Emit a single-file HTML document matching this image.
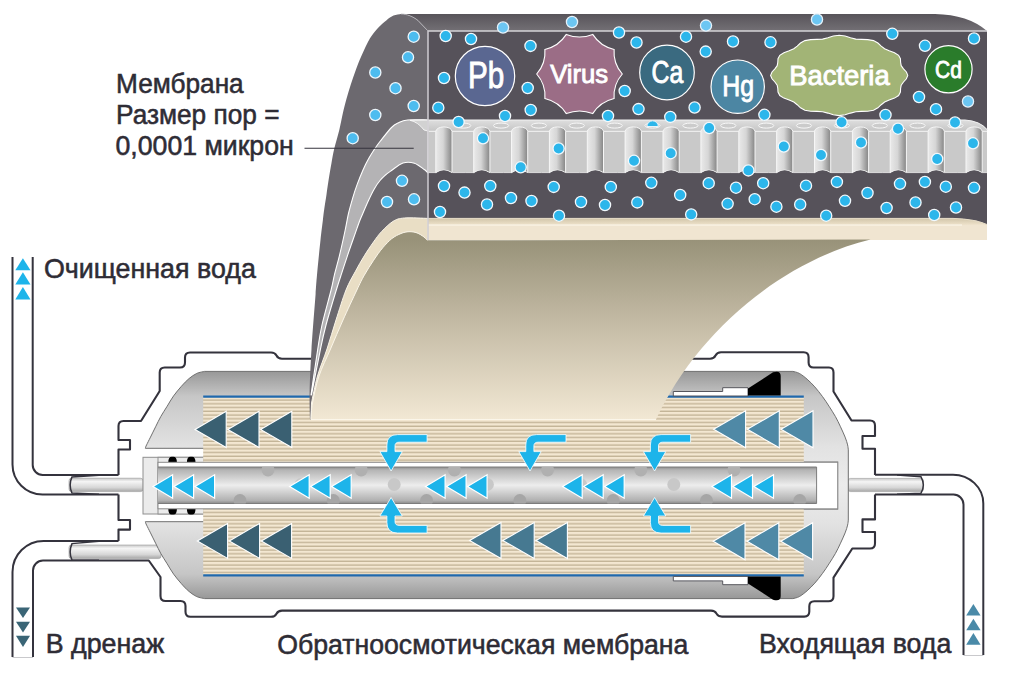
<!DOCTYPE html>
<html lang="ru"><head><meta charset="utf-8"><title>Обратноосмотическая мембрана</title>
<style>html,body{margin:0;padding:0;background:#fff}body{width:1024px;height:699px;overflow:hidden;font-family:"Liberation Sans",sans-serif}svg{display:block}</style>
</head><body>
<svg width="1024" height="699" viewBox="0 0 1024 699" font-family="'Liberation Sans', sans-serif">
<defs>
<linearGradient id="gTop" x1="0" y1="0" x2="0" y2="1"><stop offset="0" stop-color="#58545a"/><stop offset="1" stop-color="#737075"/></linearGradient>
<linearGradient id="gSheet" gradientUnits="userSpaceOnUse" x1="0" y1="240" x2="0" y2="420"><stop offset="0" stop-color="#989279"/><stop offset="0.45" stop-color="#c3baa4"/><stop offset="1" stop-color="#f2e8d4"/></linearGradient>
<linearGradient id="gCyl" x1="0" y1="0" x2="1" y2="0"><stop offset="0" stop-color="#e9e9e9"/><stop offset="0.45" stop-color="#d6d6d6"/><stop offset="0.8" stop-color="#a2a2a2"/><stop offset="1" stop-color="#858585"/></linearGradient>
<linearGradient id="gStrip" gradientUnits="userSpaceOnUse" x1="0" y1="120" x2="0" y2="131"><stop offset="0" stop-color="#dedede"/><stop offset="1" stop-color="#c6c6c6"/></linearGradient>
<linearGradient id="gBeigeTop" x1="0" y1="0" x2="0" y2="1"><stop offset="0" stop-color="#d2c6aa"/><stop offset="1" stop-color="#eee2cb"/></linearGradient>
<linearGradient id="gHouse" gradientUnits="userSpaceOnUse" x1="0" y1="371" x2="0" y2="599"><stop offset="0" stop-color="#979797"/><stop offset="0.11" stop-color="#c6c6c6"/><stop offset="0.33" stop-color="#e2e2e2"/><stop offset="0.5" stop-color="#ececec"/><stop offset="0.67" stop-color="#e2e2e2"/><stop offset="0.89" stop-color="#c6c6c6"/><stop offset="1" stop-color="#979797"/></linearGradient>
<linearGradient id="gTube" x1="0" y1="0" x2="0" y2="1"><stop offset="0" stop-color="#8e8e8e"/><stop offset="0.08" stop-color="#b4b4b4"/><stop offset="0.5" stop-color="#ededed"/><stop offset="0.92" stop-color="#b0b0b0"/><stop offset="1" stop-color="#8a8a8a"/></linearGradient>
<linearGradient id="gSmall" x1="0" y1="0" x2="0" y2="1"><stop offset="0" stop-color="#c8c8c8"/><stop offset="0.25" stop-color="#f5f5f5"/><stop offset="0.7" stop-color="#d6d6d6"/><stop offset="1" stop-color="#a6a6a6"/></linearGradient>
<pattern id="pStripe" patternUnits="userSpaceOnUse" x="0" y="397" width="8" height="3.75"><rect width="8" height="3.75" fill="#f3e7d1"/><rect y="2.35" width="8" height="1.4" fill="#c3b497"/></pattern>
<clipPath id="cTube"><rect x="158" y="467" width="658.6" height="36.5"/></clipPath>
<clipPath id="cFront"><rect x="428" y="31" width="559" height="200"/></clipPath>
</defs>
<path d="M118.5,475 V449.5 H130 V440 H118.5 V426 Q118.5,421 123.5,421 H141 L159.7,391 V372.5 Q159.7,367.5 164.7,367.5 H180 Q185,367.5 185,362.5 V357.5 Q185,352.5 190,352.5 H271 Q275,352.5 276.5,355.5 Q278,358.7 282,358.7 H710 Q714,358.7 715.5,355.5 Q717,352.3 721,352.3 H803.6 Q808.6,352.3 808.6,357.3 V362.5 Q808.6,367.5 813.6,367.5 H829 Q833.5,367.5 833.5,372.5 V391.5 L851.5,420.5 H870 Q875,420.5 875,425.5 V436 H862.5 V448.8 H875 V475 M875,494.5 V519.4 H862.5 V532 H875 V543.5 Q875,548.5 870,548.5 H852.3 L833.5,577.6 V596.3 Q833.5,601.3 828.5,601.3 H814.3 Q809.3,601.3 809.3,606.3 V611.6 Q809.3,616.6 804.3,616.6 H722 Q718,616.6 716.5,613.6 Q715,610.6 711,610.6 H282 Q278,610.6 276.5,613.7 Q275,616.8 271,616.8 H190.5 Q185.5,616.8 185.5,611.8 V606 Q185.5,601 180.5,601 H165.5 Q160.5,601 160.5,596 V577 L148.75,560.5 H99 M118.5,541 V529.6 H130 V520 H118.5 V494.5" fill="none" stroke="#34333d" stroke-width="2.1" stroke-linejoin="round"/>
<path d="M12.5,257 V464.5 A30,30 0 0 0 42.5,494.5 H118.5 M32.7,257 V465 A10,10 0 0 0 42.7,475 H118.5 M118.5,541 H43.5 A31,31 0 0 0 12.5,572 V657 M99,560.5 H43 A10,10 0 0 0 33,570.5 V657 M875,474.7 H953 A30.3,28.8 0 0 1 983.3,503.5 V655 M875,494.5 H953.5 A10,10 0 0 1 963.5,504.5 V655" fill="none" stroke="#34333d" stroke-width="2"/>
<path d="M12.5,657.5 H33 M963.5,655.5 H983.3" stroke="#c9c9cc" stroke-width="1" fill="none"/>
<rect x="69" y="478.2" width="74" height="13.4" rx="2.5" fill="url(#gSmall)" stroke="#9a9a9a" stroke-width="0.6"/>
<rect x="69" y="545" width="92" height="13.6" rx="2.5" fill="url(#gSmall)" stroke="#9a9a9a" stroke-width="0.6"/>
<rect x="848" y="478.4" width="75.5" height="13.2" rx="2.5" fill="url(#gSmall)" stroke="#9a9a9a" stroke-width="0.6"/>
<path d="M99,475.3 L72,476.9 Q68.3,485 72,493.1 L99,494.3 M99,541.3 L72,543.6 Q68.3,552 72,560 L99,560.3 M897,474.9 L921,476.8 Q925.7,485 921,493.2 L897,494.3" fill="none" stroke="#34333d" stroke-width="1.5"/>
<path d="M145.3,448.1 C145.5,447.6 145.7,446.7 146.6,444.9 C147.5,443.1 149.0,440.1 150.5,437.1 C152.0,434.1 153.9,430.2 155.6,426.8 C157.3,423.4 158.9,419.9 160.8,416.5 C162.7,413.1 165.1,409.6 167.2,406.2 C169.3,402.8 171.2,399.2 173.6,395.9 C176.0,392.6 178.8,389.2 181.4,386.3 C184.0,383.4 186.5,380.6 189.1,378.5 C191.7,376.4 194.2,374.6 196.8,373.4 C199.4,372.2 203.3,371.7 204.6,371.4 H792.9 C794.0,371.7 796.9,372.1 799.3,373.4 C801.7,374.7 804.5,376.9 807.1,379.2 C809.7,381.4 812.2,384.0 814.8,386.9 C817.4,389.8 820.1,393.4 822.5,396.6 C824.9,399.8 826.9,402.9 829.0,406.2 C831.1,409.5 833.5,413.1 835.4,416.5 C837.3,419.9 838.9,423.4 840.5,426.8 C842.1,430.2 843.9,434.1 845.1,437.1 C846.3,440.1 847.1,442.8 847.6,444.9 C848.1,447.0 848.2,449.1 848.3,450.0 V520 C848.2,520.9 848.1,523.0 847.6,525.1 C847.1,527.2 846.3,529.9 845.1,532.9 C843.9,535.9 842.1,539.8 840.5,543.2 C838.9,546.6 837.3,550.1 835.4,553.5 C833.5,556.9 831.1,560.5 829.0,563.8 C826.9,567.1 824.9,570.2 822.5,573.4 C820.1,576.6 817.4,580.2 814.8,583.1 C812.2,586.0 809.7,588.5 807.1,590.8 C804.5,593.0 801.7,595.3 799.3,596.6 C796.9,597.9 794.0,598.3 792.9,598.6 H204.6 C203.3,598.3 199.4,597.8 196.8,596.6 C194.2,595.4 191.7,593.6 189.1,591.5 C186.5,589.4 184.0,586.6 181.4,583.7 C178.8,580.8 176.0,577.4 173.6,574.1 C171.2,570.8 169.3,567.2 167.2,563.8 C165.1,560.4 162.7,556.9 160.8,553.5 C158.9,550.1 157.3,546.6 155.6,543.2 C153.9,539.8 152.0,535.9 150.5,532.9 C149.0,529.9 147.5,526.9 146.6,525.1 C145.7,523.3 145.5,522.4 145.3,521.9 Z" fill="url(#gHouse)" stroke="#6f6f6f" stroke-width="1"/>
<rect x="143.2" y="448.3" width="60.8" height="73.4" fill="#fff"/>
<path d="M145.3,448.3 H204 M145.3,521.7 H204" stroke="#6f6f6f" stroke-width="1"/>
<rect x="143" y="457.3" width="60.5" height="56.7" fill="#ebebeb" stroke="#8f8f8f" stroke-width="1"/>
<rect x="158" y="457.3" width="46" height="56.7" fill="#ececec" stroke="#8f8f8f" stroke-width="1"/>
<path d="M168.3,462.3 Q168.3,456 172.6,456.8 Q176.9,456 176.9,462.3 Z" fill="#000"/>
<path d="M168.3,509 Q168.3,515.3 172.6,514.5 Q176.9,515.3 176.9,509 Z" fill="#000"/>
<path d="M186.9,462.3 Q186.9,456 191.2,456.8 Q195.5,456 195.5,462.3 Z" fill="#000"/>
<path d="M186.9,509 Q186.9,515.3 191.2,514.5 Q195.5,515.3 195.5,509 Z" fill="#000"/>
<rect x="800" y="461.9" width="37.7" height="47.4" fill="#fff" stroke="#8a8a8a" stroke-width="1"/>
<rect x="203.2" y="397" width="600.6" height="65.5" fill="url(#pStripe)"/>
<rect x="203.2" y="508" width="600.6" height="67" fill="url(#pStripe)"/>
<path d="M203.2,396.6 H803.8 M203.2,575.4 H803.8" stroke="#2069ad" stroke-width="2.3"/>
<path d="M673.3,396 V391.5 H722.7 V387.7 H748 V396 Z" fill="#fff" stroke="#55555c" stroke-width="1"/>
<path d="M748,395.6 V388.5 L773,372.3 Q780.7,370 780.7,376 V395.6 Z" fill="#000"/>
<path d="M673.3,576.4 V580.9 H722.7 V584.7 H748 V576.4 Z" fill="#fff" stroke="#55555c" stroke-width="1"/>
<path d="M748,576.6 V583.5 L773,599.7 Q780.7,602 780.7,596 V576.6 Z" fill="#000"/>
<rect x="158" y="462.3" width="679.7" height="46.5" fill="#fff" stroke="#8a8a8a" stroke-width="1"/>
<rect x="158" y="467" width="658.6" height="36.5" fill="url(#gTube)"/>
<path d="M158,467 H816.6 V503.5 H158" fill="none" stroke="#7c7c7c" stroke-width="1"/>
<g clip-path="url(#cTube)"><circle cx="268.0" cy="470" r="6.5" fill="#b0b0b0"/><circle cx="240.0" cy="500.5" r="6.5" fill="#a6a6a6"/><circle cx="301.0" cy="484.5" r="6.5" fill="#c8c8c8"/><circle cx="361.2" cy="470" r="6.5" fill="#b0b0b0"/><circle cx="333.3" cy="500.5" r="6.5" fill="#a6a6a6"/><circle cx="394.2" cy="484.5" r="6.5" fill="#c8c8c8"/><circle cx="454.4" cy="470" r="6.5" fill="#b0b0b0"/><circle cx="426.6" cy="500.5" r="6.5" fill="#a6a6a6"/><circle cx="487.4" cy="484.5" r="6.5" fill="#c8c8c8"/><circle cx="547.6" cy="470" r="6.5" fill="#b0b0b0"/><circle cx="519.9" cy="500.5" r="6.5" fill="#a6a6a6"/><circle cx="580.6" cy="484.5" r="6.5" fill="#c8c8c8"/><circle cx="640.8" cy="470" r="6.5" fill="#b0b0b0"/><circle cx="613.2" cy="500.5" r="6.5" fill="#a6a6a6"/><circle cx="673.8" cy="484.5" r="6.5" fill="#c8c8c8"/><circle cx="734.0" cy="470" r="6.5" fill="#b0b0b0"/><circle cx="706.5" cy="500.5" r="6.5" fill="#a6a6a6"/><circle cx="767.0" cy="484.5" r="6.5" fill="#c8c8c8"/><circle cx="827.2" cy="470" r="6.5" fill="#b0b0b0"/><circle cx="799.8" cy="500.5" r="6.5" fill="#a6a6a6"/><circle cx="860.2" cy="484.5" r="6.5" fill="#c8c8c8"/></g>
<path d="M153.0,486.5 L172.6,474.7 V498.3 Z" fill="#1db4ea" stroke="#fff" stroke-width="1.2" stroke-linejoin="miter"/>
<path d="M174.0,486.5 L193.6,474.7 V498.3 Z" fill="#1db4ea" stroke="#fff" stroke-width="1.2" stroke-linejoin="miter"/>
<path d="M195.0,486.5 L214.6,474.7 V498.3 Z" fill="#1db4ea" stroke="#fff" stroke-width="1.2" stroke-linejoin="miter"/>
<path d="M289.6,486.5 L309.2,474.7 V498.3 Z" fill="#1db4ea" stroke="#fff" stroke-width="1.2" stroke-linejoin="miter"/>
<path d="M310.6,486.5 L330.2,474.7 V498.3 Z" fill="#1db4ea" stroke="#fff" stroke-width="1.2" stroke-linejoin="miter"/>
<path d="M331.6,486.5 L351.2,474.7 V498.3 Z" fill="#1db4ea" stroke="#fff" stroke-width="1.2" stroke-linejoin="miter"/>
<path d="M425.5,486.5 L445.1,474.7 V498.3 Z" fill="#1db4ea" stroke="#fff" stroke-width="1.2" stroke-linejoin="miter"/>
<path d="M446.5,486.5 L466.1,474.7 V498.3 Z" fill="#1db4ea" stroke="#fff" stroke-width="1.2" stroke-linejoin="miter"/>
<path d="M467.5,486.5 L487.1,474.7 V498.3 Z" fill="#1db4ea" stroke="#fff" stroke-width="1.2" stroke-linejoin="miter"/>
<path d="M562.6,486.5 L582.2,474.7 V498.3 Z" fill="#1db4ea" stroke="#fff" stroke-width="1.2" stroke-linejoin="miter"/>
<path d="M583.6,486.5 L603.2,474.7 V498.3 Z" fill="#1db4ea" stroke="#fff" stroke-width="1.2" stroke-linejoin="miter"/>
<path d="M604.6,486.5 L624.2,474.7 V498.3 Z" fill="#1db4ea" stroke="#fff" stroke-width="1.2" stroke-linejoin="miter"/>
<path d="M711.9,486.5 L731.5,474.7 V498.3 Z" fill="#1db4ea" stroke="#fff" stroke-width="1.2" stroke-linejoin="miter"/>
<path d="M732.9,486.5 L752.5,474.7 V498.3 Z" fill="#1db4ea" stroke="#fff" stroke-width="1.2" stroke-linejoin="miter"/>
<path d="M753.9,486.5 L773.5,474.7 V498.3 Z" fill="#1db4ea" stroke="#fff" stroke-width="1.2" stroke-linejoin="miter"/>
<path d="M195.0,429.4 L226.2,411.3 V447.5 Z" fill="#3a6072" stroke="#fff" stroke-width="1.1" stroke-linejoin="miter"/>
<path d="M227.8,429.4 L259.0,411.3 V447.5 Z" fill="#3a6072" stroke="#fff" stroke-width="1.1" stroke-linejoin="miter"/>
<path d="M260.6,429.4 L291.8,411.3 V447.5 Z" fill="#3a6072" stroke="#fff" stroke-width="1.1" stroke-linejoin="miter"/>
<path d="M197.3,540.9 L227.6,523.4 V558.4 Z" fill="#3a6072" stroke="#fff" stroke-width="1.1" stroke-linejoin="miter"/>
<path d="M229.3,540.9 L259.6,523.4 V558.4 Z" fill="#3a6072" stroke="#fff" stroke-width="1.1" stroke-linejoin="miter"/>
<path d="M261.3,540.9 L291.6,523.4 V558.4 Z" fill="#3a6072" stroke="#fff" stroke-width="1.1" stroke-linejoin="miter"/>
<path d="M469.6,540.5 L501.0,522.5 V558.5 Z" fill="#467991" stroke="#fff" stroke-width="1.1" stroke-linejoin="miter"/>
<path d="M502.8,540.5 L534.2,522.5 V558.5 Z" fill="#467991" stroke="#fff" stroke-width="1.1" stroke-linejoin="miter"/>
<path d="M536.0,540.5 L567.4,522.5 V558.5 Z" fill="#467991" stroke="#fff" stroke-width="1.1" stroke-linejoin="miter"/>
<path d="M713.6,429.3 L745.6,410.8 V447.8 Z" fill="#4f89a6" stroke="#fff" stroke-width="1.1" stroke-linejoin="miter"/>
<path d="M747.3,429.3 L779.3,410.8 V447.8 Z" fill="#4f89a6" stroke="#fff" stroke-width="1.1" stroke-linejoin="miter"/>
<path d="M781.0,429.3 L813.0,410.8 V447.8 Z" fill="#4f89a6" stroke="#fff" stroke-width="1.1" stroke-linejoin="miter"/>
<path d="M713.2,541.3 L745.0,522.8 V559.8 Z" fill="#4f89a6" stroke="#fff" stroke-width="1.1" stroke-linejoin="miter"/>
<path d="M747.0,541.3 L778.8,522.8 V559.8 Z" fill="#4f89a6" stroke="#fff" stroke-width="1.1" stroke-linejoin="miter"/>
<path d="M780.8,541.3 L812.6,522.8 V559.8 Z" fill="#4f89a6" stroke="#fff" stroke-width="1.1" stroke-linejoin="miter"/>
<path d="M427.1,434.6 H397.6 Q386.9,434.6 386.9,445 V451.6 H379.9 L391.1,471 L402.3,451.6 H395.0 V446 Q395.0,442.2 399.1,442.2 H427.1 Z" fill="#1db4ea" stroke="#fff" stroke-width="0.8"/>
<path d="M566.0,434.6 H536.5 Q525.8,434.6 525.8,445 V451.6 H518.8 L530.0,471 L541.2,451.6 H533.9 V446 Q533.9,442.2 538.0,442.2 H566.0 Z" fill="#1db4ea" stroke="#fff" stroke-width="0.8"/>
<path d="M690.6,434.6 H661.1 Q650.4,434.6 650.4,445 V451.6 H643.4 L654.6,471 L665.8,451.6 H658.5 V446 Q658.5,442.2 662.6,442.2 H690.6 Z" fill="#1db4ea" stroke="#fff" stroke-width="0.8"/>
<path d="M427.1,533 H397.6 Q386.9,533 386.9,522.6 V516 H379.9 L391.1,497.5 L402.3,516 H395.0 V521.6 Q395.0,525.4 399.1,525.4 H427.1 Z" fill="#1db4ea" stroke="#fff" stroke-width="0.8"/>
<path d="M690.6,533 H661.1 Q650.4,533 650.4,522.6 V516 H643.4 L654.6,497.5 L665.8,516 H658.5 V521.6 Q658.5,525.4 662.6,525.4 H690.6 Z" fill="#1db4ea" stroke="#fff" stroke-width="0.8"/>
<path d="M22.9,258.2 L30.5,270.2 H15.3 Z" fill="#1db4ea"/>
<path d="M22.9,272.2 L30.5,284.5 H15.3 Z" fill="#1db4ea"/>
<path d="M22.9,286.9 L30.5,299.5 H15.3 Z" fill="#1db4ea"/>
<path d="M23.0,618.0 L30.0,607.5 H16.0 Z" fill="#3a6576"/>
<path d="M23.0,632.5 L30.0,621.8 H16.0 Z" fill="#3a6576"/>
<path d="M23.0,647.0 L30.0,635.8 H16.0 Z" fill="#3a6576"/>
<path d="M973.4,604.0 L980.6,615.6 H966.2 Z" fill="#4a8aa8"/>
<path d="M973.4,618.7 L980.6,630.3 H966.2 Z" fill="#4a8aa8"/>
<path d="M973.4,633.0 L980.6,644.8 H966.2 Z" fill="#4a8aa8"/>
<path d="M401.0,13.9 C399.8,14.2 395.9,14.5 393.5,15.6 C391.1,16.7 388.9,18.4 386.3,20.4 C383.8,22.4 380.9,24.7 378.2,27.7 C375.5,30.7 372.8,33.6 370.0,38.3 C367.2,43.0 363.9,50.5 361.5,55.8 C359.1,61.1 357.6,65.2 355.8,70.0 C354.0,74.8 352.4,79.6 350.8,84.4 C349.2,89.2 347.8,93.9 346.5,98.7 C345.2,103.5 344.1,107.8 342.9,113.0 C341.7,118.2 340.7,124.1 339.3,130.0 C337.9,135.9 335.6,143.1 334.3,148.6 C333.0,154.1 332.4,157.8 331.5,163.0 C330.6,168.2 329.4,174.8 328.6,180.0 C327.8,185.2 327.2,189.6 326.5,194.4 C325.8,199.2 324.9,204.4 324.3,208.7 C323.7,213.0 323.5,214.8 322.9,220.0 C322.3,225.2 321.5,230.8 320.5,240.0 C319.5,249.2 317.8,266.0 317.0,275.0 C316.2,284.0 316.5,281.7 315.6,294.0 C314.7,306.3 312.5,332.7 311.5,349.0 C310.5,365.3 309.9,380.2 309.6,392.0 C309.4,403.8 309.9,414.9 310.0,419.5 L311,419.5 L428,419 L428,31 L418,20.5 C413,16.5 407,14 401,14 Z" fill="#6c696f"/>
<path d="M401,14 H935 Q968,14.5 987,31 H428 L418,20.5 C413,16.5 407,14 401,14 Z" fill="url(#gTop)"/>
<path d="M428,31 H987 V240 H428 Z" fill="#56525a"/>
<path d="M428.0,120.0 C424.6,120.0 412.5,119.5 407.5,120.0 C402.5,120.5 400.7,121.8 398.0,123.0 C395.3,124.2 394.5,124.4 391.5,127.5 C388.5,130.6 382.9,137.9 380.0,141.5 C377.1,145.1 376.3,146.5 374.4,149.3 C372.5,152.2 370.6,155.2 368.7,158.6 C366.8,162.0 364.9,165.7 363.0,170.0 C361.1,174.3 358.9,179.8 357.2,184.4 C355.5,189.0 354.3,192.5 352.9,197.3 C351.5,202.1 349.9,207.6 348.6,213.0 C347.3,218.4 346.7,222.9 345.2,230.0 C343.7,237.1 341.2,248.5 339.4,255.8 C337.6,263.2 336.0,268.4 334.6,274.1 C333.2,279.8 333.2,281.5 331.1,290.0 C329.0,298.5 324.2,315.2 322.0,325.0 C319.8,334.8 319.6,337.1 317.8,348.8 C316.0,360.5 312.1,387.3 311.0,395.0 L311.5,395.0 C313.0,387.3 318.1,360.5 320.5,348.8 C322.9,337.1 323.4,334.8 326.0,325.0 C328.6,315.2 333.7,298.5 336.3,290.0 C338.9,281.5 339.5,279.8 341.4,274.1 C343.2,268.4 345.1,262.7 347.4,255.8 C349.7,248.9 353.3,238.9 355.4,232.9 C357.5,226.9 358.7,223.3 360.0,220.0 C361.3,216.7 361.6,216.3 363.0,213.0 C364.4,209.7 366.8,204.1 368.7,200.0 C370.6,195.9 372.5,191.9 374.4,188.7 C376.3,185.4 378.1,182.8 380.0,180.5 C381.9,178.2 383.6,176.7 385.5,175.0 C387.4,173.3 388.6,172.5 391.5,170.5 C394.4,168.5 399.2,164.2 403.0,163.0 C406.8,161.8 410.8,162.1 414.4,163.2 C418.0,164.3 422.4,168.2 424.7,169.8 C427.0,171.4 427.4,172.5 428.0,173.0 Z" fill="#b4b3b5" stroke="#fff" stroke-width="1.1" stroke-linejoin="round"/>
<path d="M428.0,218.4 C424.1,218.3 410.2,217.5 404.4,218.0 C398.6,218.5 396.8,219.1 393.0,221.4 C389.2,223.7 384.8,228.3 381.5,231.7 C378.2,235.1 376.4,238.0 373.5,242.0 C370.6,246.0 367.4,250.8 364.3,255.8 C361.2,260.8 358.2,266.1 355.2,271.8 C352.1,277.5 349.2,282.0 346.0,290.0 C342.8,298.0 339.2,310.2 336.0,320.0 C332.8,329.8 330.1,339.7 327.0,349.0 C323.9,358.3 320.1,367.0 317.5,376.0 C314.9,385.0 312.5,398.5 311.5,403.0 L311,419.5 L428,419.5 Z" fill="#e9dec5" stroke="#fbf6ea" stroke-width="1"/>
<path d="M428,218.4 H953 Q975,219 987,224.5 V240 H428 Z" fill="#f0e5d1"/>
<path d="M428,218.4 H953 Q975,219 987,224.5 L960,225 H428 Z" fill="url(#gBeigeTop)"/>
<path d="M428,225 H962" stroke="#fffaf0" stroke-width="0.9"/>
<path d="M428,218.4 H953 Q975,219 987,224.5" stroke="#e6dcc8" stroke-width="1" fill="none"/>
<path d="M427.3,240.3 C426.7,239.7 425.6,238.1 423.9,236.9 C422.2,235.7 419.5,233.8 417.0,232.9 C414.5,232.0 411.7,231.6 409.0,231.7 C406.3,231.8 403.9,232.3 401.0,233.5 C398.1,234.7 394.9,236.2 391.8,238.6 C388.8,241.0 385.8,244.2 382.7,247.8 C379.6,251.4 376.6,255.8 373.5,260.4 C370.4,265.0 367.1,270.3 364.3,275.2 C361.5,280.1 360.4,282.5 356.9,290.0 C353.3,297.5 347.4,310.2 343.0,320.0 C338.6,329.8 334.5,339.7 330.5,349.0 C326.5,358.3 322.0,367.0 319.0,376.0 C316.0,385.0 313.8,395.8 312.5,403.0 C311.2,410.2 311.2,416.8 311.0,419.5 H656 C695,335.2 779,261.8 870.5,239.5 Z" fill="url(#gSheet)"/>
<path d="M427.3,240.3 C426.7,239.7 425.6,238.1 423.9,236.9 C422.2,235.7 419.5,233.8 417.0,232.9 C414.5,232.0 411.7,231.6 409.0,231.7 C406.3,231.8 403.9,232.3 401.0,233.5 C398.1,234.7 394.9,236.2 391.8,238.6 C388.8,241.0 385.8,244.2 382.7,247.8 C379.6,251.4 376.6,255.8 373.5,260.4 C370.4,265.0 367.1,270.3 364.3,275.2 C361.5,280.1 360.4,282.5 356.9,290.0 C353.3,297.5 347.4,310.2 343.0,320.0 C338.6,329.8 334.5,339.7 330.5,349.0 C326.5,358.3 322.0,367.0 319.0,376.0 C316.0,385.0 313.8,395.8 312.5,403.0 C311.2,410.2 311.2,416.8 311.0,419.5 H656" fill="none" stroke="#fbf6ea" stroke-width="1"/>
<path d="M428,120 H965 Q980,121 987,129.5 V172.5 H428 Z" fill="#c9c9c9"/>
<path d="M428,120 H965 Q980,121 987,129.5 L987,131 H436 L428,131 Z" fill="url(#gStrip)"/>
<path d="M428,131.3 H987" stroke="#f6f6f6" stroke-width="1"/>
<path d="M410,120.3 L428,120 V131 L424,130 Q418,122 410,120.3 Z" fill="#d2d2d2" stroke="#fff" stroke-width="0.8"/>
<g clip-path="url(#cFront)"><path d="M435.8,172.6 V131.5 A8.1,4.6 0 0 1 452.0,131.5 V172.6 Q443.9,167.6 435.8,172.6 Z" fill="url(#gCyl)" stroke="#f6f6f6" stroke-width="1"/><path d="M435.8,173.2 Q443.9,167.2 452.0,173.2 Z" fill="#56525a"/><ellipse cx="463.2" cy="125.6" rx="7.6" ry="2.5" fill="#cbcbcb" stroke="#f8f8f8" stroke-width="1"/><path d="M473.7,172.6 V131.5 A8.1,4.6 0 0 1 489.9,131.5 V172.6 Q481.8,167.6 473.7,172.6 Z" fill="url(#gCyl)" stroke="#f6f6f6" stroke-width="1"/><path d="M473.7,173.2 Q481.8,167.2 489.9,173.2 Z" fill="#56525a"/><ellipse cx="501.1" cy="125.6" rx="7.6" ry="2.5" fill="#cbcbcb" stroke="#f8f8f8" stroke-width="1"/><path d="M511.5,172.6 V131.5 A8.1,4.6 0 0 1 527.7,131.5 V172.6 Q519.6,167.6 511.5,172.6 Z" fill="url(#gCyl)" stroke="#f6f6f6" stroke-width="1"/><path d="M511.5,173.2 Q519.6,167.2 527.7,173.2 Z" fill="#56525a"/><ellipse cx="538.9" cy="125.6" rx="7.6" ry="2.5" fill="#cbcbcb" stroke="#f8f8f8" stroke-width="1"/><path d="M549.4,172.6 V131.5 A8.1,4.6 0 0 1 565.6,131.5 V172.6 Q557.5,167.6 549.4,172.6 Z" fill="url(#gCyl)" stroke="#f6f6f6" stroke-width="1"/><path d="M549.4,173.2 Q557.5,167.2 565.6,173.2 Z" fill="#56525a"/><ellipse cx="576.8" cy="125.6" rx="7.6" ry="2.5" fill="#cbcbcb" stroke="#f8f8f8" stroke-width="1"/><path d="M587.3,172.6 V131.5 A8.1,4.6 0 0 1 603.5,131.5 V172.6 Q595.4,167.6 587.3,172.6 Z" fill="url(#gCyl)" stroke="#f6f6f6" stroke-width="1"/><path d="M587.3,173.2 Q595.4,167.2 603.5,173.2 Z" fill="#56525a"/><ellipse cx="614.7" cy="125.6" rx="7.6" ry="2.5" fill="#cbcbcb" stroke="#f8f8f8" stroke-width="1"/><path d="M625.1,172.6 V131.5 A8.1,4.6 0 0 1 641.4,131.5 V172.6 Q633.2,167.6 625.1,172.6 Z" fill="url(#gCyl)" stroke="#f6f6f6" stroke-width="1"/><path d="M625.1,173.2 Q633.2,167.2 641.4,173.2 Z" fill="#56525a"/><ellipse cx="652.5" cy="125.6" rx="7.6" ry="2.5" fill="#cbcbcb" stroke="#f8f8f8" stroke-width="1"/><path d="M663.0,172.6 V131.5 A8.1,4.6 0 0 1 679.2,131.5 V172.6 Q671.1,167.6 663.0,172.6 Z" fill="url(#gCyl)" stroke="#f6f6f6" stroke-width="1"/><path d="M663.0,173.2 Q671.1,167.2 679.2,173.2 Z" fill="#56525a"/><ellipse cx="690.4" cy="125.6" rx="7.6" ry="2.5" fill="#cbcbcb" stroke="#f8f8f8" stroke-width="1"/><path d="M700.9,172.6 V131.5 A8.1,4.6 0 0 1 717.1,131.5 V172.6 Q709.0,167.6 700.9,172.6 Z" fill="url(#gCyl)" stroke="#f6f6f6" stroke-width="1"/><path d="M700.9,173.2 Q709.0,167.2 717.1,173.2 Z" fill="#56525a"/><ellipse cx="728.3" cy="125.6" rx="7.6" ry="2.5" fill="#cbcbcb" stroke="#f8f8f8" stroke-width="1"/><path d="M738.8,172.6 V131.5 A8.1,4.6 0 0 1 755.0,131.5 V172.6 Q746.9,167.6 738.8,172.6 Z" fill="url(#gCyl)" stroke="#f6f6f6" stroke-width="1"/><path d="M738.8,173.2 Q746.9,167.2 755.0,173.2 Z" fill="#56525a"/><ellipse cx="766.2" cy="125.6" rx="7.6" ry="2.5" fill="#cbcbcb" stroke="#f8f8f8" stroke-width="1"/><path d="M776.6,172.6 V131.5 A8.1,4.6 0 0 1 792.8,131.5 V172.6 Q784.7,167.6 776.6,172.6 Z" fill="url(#gCyl)" stroke="#f6f6f6" stroke-width="1"/><path d="M776.6,173.2 Q784.7,167.2 792.8,173.2 Z" fill="#56525a"/><ellipse cx="804.0" cy="125.6" rx="7.6" ry="2.5" fill="#cbcbcb" stroke="#f8f8f8" stroke-width="1"/><path d="M814.5,172.6 V131.5 A8.1,4.6 0 0 1 830.7,131.5 V172.6 Q822.6,167.6 814.5,172.6 Z" fill="url(#gCyl)" stroke="#f6f6f6" stroke-width="1"/><path d="M814.5,173.2 Q822.6,167.2 830.7,173.2 Z" fill="#56525a"/><ellipse cx="841.9" cy="125.6" rx="7.6" ry="2.5" fill="#cbcbcb" stroke="#f8f8f8" stroke-width="1"/><path d="M852.4,172.6 V131.5 A8.1,4.6 0 0 1 868.6,131.5 V172.6 Q860.5,167.6 852.4,172.6 Z" fill="url(#gCyl)" stroke="#f6f6f6" stroke-width="1"/><path d="M852.4,173.2 Q860.5,167.2 868.6,173.2 Z" fill="#56525a"/><ellipse cx="879.8" cy="125.6" rx="7.6" ry="2.5" fill="#cbcbcb" stroke="#f8f8f8" stroke-width="1"/><path d="M890.2,172.6 V131.5 A8.1,4.6 0 0 1 906.4,131.5 V172.6 Q898.3,167.6 890.2,172.6 Z" fill="url(#gCyl)" stroke="#f6f6f6" stroke-width="1"/><path d="M890.2,173.2 Q898.3,167.2 906.4,173.2 Z" fill="#56525a"/><ellipse cx="917.6" cy="125.6" rx="7.6" ry="2.5" fill="#cbcbcb" stroke="#f8f8f8" stroke-width="1"/><path d="M928.1,172.6 V131.5 A8.1,4.6 0 0 1 944.3,131.5 V172.6 Q936.2,167.6 928.1,172.6 Z" fill="url(#gCyl)" stroke="#f6f6f6" stroke-width="1"/><path d="M928.1,173.2 Q936.2,167.2 944.3,173.2 Z" fill="#56525a"/><ellipse cx="955.5" cy="125.6" rx="7.6" ry="2.5" fill="#cbcbcb" stroke="#f8f8f8" stroke-width="1"/><path d="M966.0,172.6 V131.5 A8.1,4.6 0 0 1 982.2,131.5 V172.6 Q974.1,167.6 966.0,172.6 Z" fill="url(#gCyl)" stroke="#f6f6f6" stroke-width="1"/><path d="M966.0,173.2 Q974.1,167.2 982.2,173.2 Z" fill="#56525a"/></g>
<path d="M428,172.6 H987" stroke="#f0f0f0" stroke-width="0.8" fill="none" stroke-dasharray="8.7 15.8 13.35 0" stroke-dashoffset="0"/>
<path d="M428,120 H965 Q980,121 987,129.5" stroke="#f2f2f2" stroke-width="1" fill="none"/>
<path d="M428,31 H987" stroke="#d6d4d9" stroke-width="1.6"/>
<path d="M428,31 V240" stroke="#cfcdd2" stroke-width="1.5"/>
<path d="M401,14 C407,14 413,16.5 418,20.5 L428,31" stroke="#bdbbc0" stroke-width="0.8" fill="none"/>
<circle cx="485" cy="76" r="29.7" fill="#5a6791" stroke="#fff" stroke-width="1.2"/>
<path d="M622.3,74.0 Q613.0,84.6 614.1,98.5 Q600.2,101.8 592.7,113.6 Q579.5,108.4 566.3,113.6 Q558.8,101.8 544.9,98.5 Q546.0,84.6 536.7,74.0 Q546.0,63.4 544.9,49.5 Q558.8,46.2 566.3,34.4 Q579.5,39.6 592.7,34.4 Q600.2,46.2 614.1,49.5 Q613.0,63.4 622.3,74.0 Z" fill="#9b6d86" stroke="#fff" stroke-width="1.1" stroke-linejoin="miter"/>
<circle cx="667" cy="72.5" r="27.3" fill="#3a6a80" stroke="#fff" stroke-width="1.2"/>
<circle cx="737.7" cy="86.7" r="26.7" fill="#4c86a3" stroke="#fff" stroke-width="1.2"/>
<circle cx="948.5" cy="69.3" r="23.6" fill="#2a7c2b" stroke="#fff" stroke-width="1.2"/>
<path id="bact" d="M907.8,75.4 L906.4,78.8 L903.5,82.0 L901.2,85.1 L900.6,88.5 L900.4,92.1 L898.6,95.5 L894.5,98.1 L889.2,100.0 L884.6,102.0 L881.2,104.7 L877.9,107.8 L873.5,110.2 L867.7,111.2 L861.5,111.4 L855.8,111.7 L850.5,113.1 L845.1,114.8 L839.2,115.6 L833.3,114.8 L827.9,113.1 L822.6,111.7 L816.9,111.4 L810.7,111.2 L804.9,110.2 L800.5,107.8 L797.2,104.7 L793.8,102.0 L789.2,100.0 L783.9,98.1 L779.8,95.5 L778.0,92.1 L777.8,88.5 L777.2,85.1 L774.9,82.0 L772.0,78.8 L770.6,75.4 L772.0,72.0 L774.9,68.8 L777.2,65.7 L777.8,62.3 L778.0,58.7 L779.8,55.3 L783.9,52.7 L789.2,50.8 L793.8,48.8 L797.2,46.1 L800.5,43.0 L804.9,40.6 L810.7,39.6 L816.9,39.4 L822.6,39.1 L827.9,37.7 L833.3,36.0 L839.2,35.2 L845.1,36.0 L850.5,37.7 L855.8,39.1 L861.5,39.4 L867.7,39.6 L873.5,40.6 L877.9,43.0 L881.2,46.1 L884.6,48.8 L889.2,50.8 L894.5,52.7 L898.6,55.3 L900.4,58.7 L900.6,62.3 L901.2,65.7 L903.5,68.8 L906.4,72.0 Z" fill="#a2b476" stroke="#fff" stroke-width="1.1"/>
<circle cx="413.7" cy="36.7" r="5.6" fill="#4dbcef" stroke="#eef7fc" stroke-width="1.3"/>
<circle cx="408.0" cy="57.3" r="5.6" fill="#4dbcef" stroke="#eef7fc" stroke-width="1.3"/>
<circle cx="375.3" cy="72.5" r="5.6" fill="#4dbcef" stroke="#eef7fc" stroke-width="1.3"/>
<circle cx="395.5" cy="88.2" r="5.6" fill="#4dbcef" stroke="#eef7fc" stroke-width="1.3"/>
<circle cx="413.7" cy="106.0" r="5.6" fill="#4dbcef" stroke="#eef7fc" stroke-width="1.3"/>
<circle cx="375.3" cy="115.0" r="5.6" fill="#4dbcef" stroke="#eef7fc" stroke-width="1.3"/>
<circle cx="352.7" cy="138.2" r="5.6" fill="#4dbcef" stroke="#eef7fc" stroke-width="1.3"/>
<circle cx="402.0" cy="180.8" r="5.6" fill="#4dbcef" stroke="#eef7fc" stroke-width="1.3"/>
<circle cx="387.0" cy="202.0" r="5.6" fill="#4dbcef" stroke="#eef7fc" stroke-width="1.3"/>
<circle cx="414.0" cy="199.3" r="5.6" fill="#4dbcef" stroke="#eef7fc" stroke-width="1.3"/>
<circle cx="503.0" cy="27.5" r="5.6" fill="#6cc6f2" stroke="#e6f2fa" stroke-width="1.3"/>
<circle cx="572.0" cy="22.0" r="5.6" fill="#6cc6f2" stroke="#e6f2fa" stroke-width="1.3"/>
<circle cx="706.0" cy="25.6" r="5.6" fill="#6cc6f2" stroke="#e6f2fa" stroke-width="1.3"/>
<circle cx="817.0" cy="19.5" r="5.6" fill="#6cc6f2" stroke="#e6f2fa" stroke-width="1.3"/>
<circle cx="968.0" cy="101.5" r="5.6" fill="#6cc6f2" stroke="#e6f2fa" stroke-width="1.3"/>
<circle cx="445.7" cy="36.0" r="5.6" fill="#2cb6eb" stroke="#f2f9fd" stroke-width="1.3"/>
<circle cx="471.0" cy="39.0" r="5.6" fill="#2cb6eb" stroke="#f2f9fd" stroke-width="1.3"/>
<circle cx="530.5" cy="45.9" r="5.6" fill="#2cb6eb" stroke="#f2f9fd" stroke-width="1.3"/>
<circle cx="444.0" cy="78.0" r="5.6" fill="#2cb6eb" stroke="#f2f9fd" stroke-width="1.3"/>
<circle cx="438.3" cy="107.7" r="5.6" fill="#2cb6eb" stroke="#f2f9fd" stroke-width="1.3"/>
<circle cx="530.7" cy="110.0" r="5.6" fill="#2cb6eb" stroke="#f2f9fd" stroke-width="1.3"/>
<circle cx="505.0" cy="116.0" r="5.6" fill="#2cb6eb" stroke="#f2f9fd" stroke-width="1.3"/>
<circle cx="458.6" cy="122.0" r="5.6" fill="#2cb6eb" stroke="#f2f9fd" stroke-width="1.3"/>
<circle cx="483.0" cy="138.3" r="5.6" fill="#2cb6eb" stroke="#f2f9fd" stroke-width="1.3"/>
<circle cx="520.7" cy="167.3" r="5.6" fill="#2cb6eb" stroke="#f2f9fd" stroke-width="1.3"/>
<circle cx="619.0" cy="32.5" r="5.6" fill="#2cb6eb" stroke="#f2f9fd" stroke-width="1.3"/>
<circle cx="636.5" cy="42.5" r="5.6" fill="#2cb6eb" stroke="#f2f9fd" stroke-width="1.3"/>
<circle cx="686.0" cy="36.7" r="5.6" fill="#2cb6eb" stroke="#f2f9fd" stroke-width="1.3"/>
<circle cx="705.7" cy="51.6" r="5.6" fill="#2cb6eb" stroke="#f2f9fd" stroke-width="1.3"/>
<circle cx="733.0" cy="41.5" r="5.6" fill="#2cb6eb" stroke="#f2f9fd" stroke-width="1.3"/>
<circle cx="770.5" cy="42.3" r="5.6" fill="#2cb6eb" stroke="#f2f9fd" stroke-width="1.3"/>
<circle cx="527.7" cy="88.0" r="5.6" fill="#2cb6eb" stroke="#f2f9fd" stroke-width="1.3"/>
<circle cx="624.7" cy="91.0" r="5.6" fill="#2cb6eb" stroke="#f2f9fd" stroke-width="1.3"/>
<circle cx="608.0" cy="116.0" r="5.6" fill="#2cb6eb" stroke="#f2f9fd" stroke-width="1.3"/>
<circle cx="638.5" cy="109.1" r="5.6" fill="#2cb6eb" stroke="#f2f9fd" stroke-width="1.3"/>
<circle cx="670.3" cy="116.9" r="5.6" fill="#2cb6eb" stroke="#f2f9fd" stroke-width="1.3"/>
<circle cx="694.6" cy="107.5" r="5.6" fill="#2cb6eb" stroke="#f2f9fd" stroke-width="1.3"/>
<circle cx="764.4" cy="114.8" r="5.6" fill="#2cb6eb" stroke="#f2f9fd" stroke-width="1.3"/>
<circle cx="709.2" cy="128.0" r="5.6" fill="#2cb6eb" stroke="#f2f9fd" stroke-width="1.3"/>
<circle cx="558.6" cy="148.5" r="5.6" fill="#2cb6eb" stroke="#f2f9fd" stroke-width="1.3"/>
<circle cx="634.0" cy="160.8" r="5.6" fill="#2cb6eb" stroke="#f2f9fd" stroke-width="1.3"/>
<circle cx="670.7" cy="153.2" r="5.6" fill="#2cb6eb" stroke="#f2f9fd" stroke-width="1.3"/>
<circle cx="748.4" cy="170.4" r="5.6" fill="#2cb6eb" stroke="#f2f9fd" stroke-width="1.3"/>
<circle cx="783.8" cy="146.5" r="5.6" fill="#2cb6eb" stroke="#f2f9fd" stroke-width="1.3"/>
<circle cx="892.3" cy="33.8" r="5.6" fill="#2cb6eb" stroke="#f2f9fd" stroke-width="1.3"/>
<circle cx="925.0" cy="45.8" r="5.6" fill="#2cb6eb" stroke="#f2f9fd" stroke-width="1.3"/>
<circle cx="974.0" cy="38.5" r="5.6" fill="#2cb6eb" stroke="#f2f9fd" stroke-width="1.3"/>
<circle cx="919.0" cy="97.0" r="5.6" fill="#2cb6eb" stroke="#f2f9fd" stroke-width="1.3"/>
<circle cx="936.0" cy="109.2" r="5.6" fill="#2cb6eb" stroke="#f2f9fd" stroke-width="1.3"/>
<circle cx="885.5" cy="115.0" r="5.6" fill="#2cb6eb" stroke="#f2f9fd" stroke-width="1.3"/>
<circle cx="841.6" cy="122.3" r="5.6" fill="#2cb6eb" stroke="#f2f9fd" stroke-width="1.3"/>
<circle cx="898.0" cy="128.7" r="5.6" fill="#2cb6eb" stroke="#f2f9fd" stroke-width="1.3"/>
<circle cx="955.0" cy="122.5" r="5.6" fill="#2cb6eb" stroke="#f2f9fd" stroke-width="1.3"/>
<circle cx="821.0" cy="155.0" r="5.6" fill="#2cb6eb" stroke="#f2f9fd" stroke-width="1.3"/>
<circle cx="861.0" cy="142.5" r="5.6" fill="#2cb6eb" stroke="#f2f9fd" stroke-width="1.3"/>
<circle cx="937.2" cy="159.0" r="5.6" fill="#2cb6eb" stroke="#f2f9fd" stroke-width="1.3"/>
<circle cx="973.0" cy="143.3" r="5.6" fill="#2cb6eb" stroke="#f2f9fd" stroke-width="1.3"/>
<circle cx="444.0" cy="186.0" r="5.6" fill="#2cb6eb" stroke="#f2f9fd" stroke-width="1.3"/>
<circle cx="464.5" cy="192.6" r="5.6" fill="#2cb6eb" stroke="#f2f9fd" stroke-width="1.3"/>
<circle cx="490.3" cy="186.0" r="5.6" fill="#2cb6eb" stroke="#f2f9fd" stroke-width="1.3"/>
<circle cx="511.0" cy="198.0" r="5.6" fill="#2cb6eb" stroke="#f2f9fd" stroke-width="1.3"/>
<circle cx="531.5" cy="201.0" r="5.6" fill="#2cb6eb" stroke="#f2f9fd" stroke-width="1.3"/>
<circle cx="487.0" cy="204.5" r="5.6" fill="#2cb6eb" stroke="#f2f9fd" stroke-width="1.3"/>
<circle cx="440.0" cy="212.0" r="5.6" fill="#2cb6eb" stroke="#f2f9fd" stroke-width="1.3"/>
<circle cx="553.7" cy="186.9" r="5.6" fill="#2cb6eb" stroke="#f2f9fd" stroke-width="1.3"/>
<circle cx="559.0" cy="215.7" r="5.6" fill="#2cb6eb" stroke="#f2f9fd" stroke-width="1.3"/>
<circle cx="581.0" cy="202.0" r="5.6" fill="#2cb6eb" stroke="#f2f9fd" stroke-width="1.3"/>
<circle cx="605.0" cy="205.0" r="5.6" fill="#2cb6eb" stroke="#f2f9fd" stroke-width="1.3"/>
<circle cx="610.8" cy="186.9" r="5.6" fill="#2cb6eb" stroke="#f2f9fd" stroke-width="1.3"/>
<circle cx="651.3" cy="182.8" r="5.6" fill="#2cb6eb" stroke="#f2f9fd" stroke-width="1.3"/>
<circle cx="708.7" cy="183.2" r="5.6" fill="#2cb6eb" stroke="#f2f9fd" stroke-width="1.3"/>
<circle cx="736.0" cy="187.7" r="5.6" fill="#2cb6eb" stroke="#f2f9fd" stroke-width="1.3"/>
<circle cx="763.2" cy="183.2" r="5.6" fill="#2cb6eb" stroke="#f2f9fd" stroke-width="1.3"/>
<circle cx="637.3" cy="202.4" r="5.6" fill="#2cb6eb" stroke="#f2f9fd" stroke-width="1.3"/>
<circle cx="680.2" cy="195.0" r="5.6" fill="#2cb6eb" stroke="#f2f9fd" stroke-width="1.3"/>
<circle cx="727.6" cy="203.8" r="5.6" fill="#2cb6eb" stroke="#f2f9fd" stroke-width="1.3"/>
<circle cx="754.7" cy="199.2" r="5.6" fill="#2cb6eb" stroke="#f2f9fd" stroke-width="1.3"/>
<circle cx="776.4" cy="206.7" r="5.6" fill="#2cb6eb" stroke="#f2f9fd" stroke-width="1.3"/>
<circle cx="800.2" cy="204.5" r="5.6" fill="#2cb6eb" stroke="#f2f9fd" stroke-width="1.3"/>
<circle cx="691.2" cy="214.4" r="5.6" fill="#2cb6eb" stroke="#f2f9fd" stroke-width="1.3"/>
<circle cx="806.0" cy="185.7" r="5.6" fill="#2cb6eb" stroke="#f2f9fd" stroke-width="1.3"/>
<circle cx="836.9" cy="181.9" r="5.6" fill="#2cb6eb" stroke="#f2f9fd" stroke-width="1.3"/>
<circle cx="867.5" cy="193.0" r="5.6" fill="#2cb6eb" stroke="#f2f9fd" stroke-width="1.3"/>
<circle cx="900.0" cy="183.8" r="5.6" fill="#2cb6eb" stroke="#f2f9fd" stroke-width="1.3"/>
<circle cx="924.9" cy="181.9" r="5.6" fill="#2cb6eb" stroke="#f2f9fd" stroke-width="1.3"/>
<circle cx="945.8" cy="186.7" r="5.6" fill="#2cb6eb" stroke="#f2f9fd" stroke-width="1.3"/>
<circle cx="974.0" cy="187.8" r="5.6" fill="#2cb6eb" stroke="#f2f9fd" stroke-width="1.3"/>
<circle cx="845.0" cy="200.8" r="5.6" fill="#2cb6eb" stroke="#f2f9fd" stroke-width="1.3"/>
<circle cx="886.6" cy="208.0" r="5.6" fill="#2cb6eb" stroke="#f2f9fd" stroke-width="1.3"/>
<circle cx="915.5" cy="202.5" r="5.6" fill="#2cb6eb" stroke="#f2f9fd" stroke-width="1.3"/>
<circle cx="956.0" cy="207.5" r="5.6" fill="#2cb6eb" stroke="#f2f9fd" stroke-width="1.3"/>
<circle cx="826.2" cy="215.7" r="5.6" fill="#2cb6eb" stroke="#f2f9fd" stroke-width="1.3"/>
<circle cx="934.2" cy="215.0" r="5.6" fill="#2cb6eb" stroke="#f2f9fd" stroke-width="1.3"/>
<path d="M646.9,126.5 A5.7,5.7 0 0 1 658.3,126.5 Z" fill="#2db6ea" stroke="#e8f4fa" stroke-width="1"/>
<path d="M304.5,148.2 H413.7" stroke="#34333d" stroke-width="1.1"/>
<text x="116.0" y="93.0" font-size="27.5" textLength="127.7" lengthAdjust="spacingAndGlyphs" fill="#2e2c35" stroke="#2e2c35" stroke-width="0.55" text-anchor="start" font-weight="normal">Мембрана</text>
<text x="116.0" y="124.0" font-size="27.5" textLength="163.5" lengthAdjust="spacingAndGlyphs" fill="#2e2c35" stroke="#2e2c35" stroke-width="0.55" text-anchor="start" font-weight="normal">Размер пор =</text>
<text x="115.5" y="155.3" font-size="27.5" textLength="178.2" lengthAdjust="spacingAndGlyphs" fill="#2e2c35" stroke="#2e2c35" stroke-width="0.55" text-anchor="start" font-weight="normal">0,0001 микрон</text>
<text x="44.0" y="278.0" font-size="28.0" textLength="211.8" lengthAdjust="spacingAndGlyphs" fill="#2e2c35" stroke="#2e2c35" stroke-width="0.55" text-anchor="start" font-weight="normal">Очищенная вода</text>
<text x="45.7" y="652.8" font-size="27.5" textLength="118.5" lengthAdjust="spacingAndGlyphs" fill="#2e2c35" stroke="#2e2c35" stroke-width="0.55" text-anchor="start" font-weight="normal">В дренаж</text>
<text x="277.2" y="653.5" font-size="27.5" textLength="411.2" lengthAdjust="spacingAndGlyphs" fill="#2e2c35" stroke="#2e2c35" stroke-width="0.55" text-anchor="start" font-weight="normal">Обратноосмотическая мембрана</text>
<text x="758.9" y="653.4" font-size="27.5" textLength="192.4" lengthAdjust="spacingAndGlyphs" fill="#2e2c35" stroke="#2e2c35" stroke-width="0.55" text-anchor="start" font-weight="normal">Входящая вода</text>
<text x="468.0" y="88.0" font-size="36.0" textLength="36.2" lengthAdjust="spacingAndGlyphs" fill="#fff" stroke="#fff" stroke-width="0.90" text-anchor="start" font-weight="normal">Pb</text>
<text x="550.2" y="82.5" font-size="26.5" textLength="58.0" lengthAdjust="spacingAndGlyphs" fill="#fff" stroke="#fff" stroke-width="0.90" text-anchor="start" font-weight="normal">Virus</text>
<text x="651.5" y="82.5" font-size="30.5" textLength="31.7" lengthAdjust="spacingAndGlyphs" fill="#fff" stroke="#fff" stroke-width="0.90" text-anchor="start" font-weight="normal">Ca</text>
<text x="722.2" y="96.2" font-size="29.0" textLength="31.8" lengthAdjust="spacingAndGlyphs" fill="#fff" stroke="#fff" stroke-width="0.90" text-anchor="start" font-weight="normal">Hg</text>
<text x="789.2" y="85.0" font-size="27.5" textLength="100.5" lengthAdjust="spacingAndGlyphs" fill="#fff" stroke="#fff" stroke-width="0.90" text-anchor="start" font-weight="normal">Bacteria</text>
<text x="935.0" y="77.5" font-size="24.5" textLength="26.8" lengthAdjust="spacingAndGlyphs" fill="#fff" stroke="#fff" stroke-width="0.90" text-anchor="start" font-weight="normal">Cd</text>
</svg>
</body></html>
